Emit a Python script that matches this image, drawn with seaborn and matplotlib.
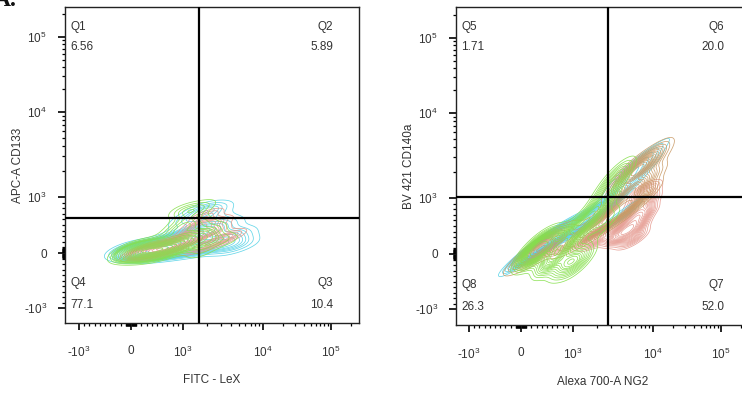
import numpy as np
import pandas as pd
import matplotlib
matplotlib.use("Agg")
import matplotlib.pyplot as plt
import seaborn as sns

# ---------------- data (fluorescence values, with event weights) ----------------
# Panel A-left: FITC-LeX (x) vs APC-A CD133 (y)
p1_cyan_x = [0, 269, 558, 846, 1223, 1884, 2900, 4870, 654, 942, 1413, 2175, 3350, 1059, 1540,
             2054, 2512, 3870, 5460, 3650, 5960, 2738]
p1_cyan_y = [54, 36, 36, 54, 71, 107, 161, 232, 179, 268, 375, 411, 339, 554, 696,
             821, 625, 554, 375, 54, 161, 804]
p1_cyan_w = [3, 4, 4, 3, 2, 1.5, 1.2, 0.8, 2, 2, 1.5, 1.2, 1, 1, 1,
             0.8, 0.8, 0.8, 0.7, 0.8, 0.6, 0.7]
p1_green_x = [38, 231, 423, 615, 808, 1000, 1296, 1728, 2512, 3870, 846, 1059, 1000, 1296, 1630,
              1884, 2512, 1630]
p1_green_y = [36, 36, 36, 54, 107, 179, 268, 232, 232, 232, 375, 554, 768, 732, 518,
              857, 446, 18]
p1_green_w = [5, 5, 5, 4, 3, 2.5, 2, 1.5, 1, 0.6, 1.5, 1.2, 1, 1, 1,
              0.7, 0.8, 1]
p1_red_x = [269, 519, 750, 981, 1334, 1630, 1995, 2305, 3350, 1413, 2175, 2738, 3870]
p1_red_y = [36, 54, 107, 196, 321, 500, 679, 375, 268, 89, 143, 554, 321]
p1_red_w = [3, 3, 3, 2.5, 2, 1.5, 1, 1.2, 0.8, 1, 0.8, 0.8, 0.6]

# Panel A-right: Alexa 700-A NG2 (x) vs BV 421 CD140a (y)
p2_cyan_x = [275, 373, 667, 961, 1447, 2216, 3395, 5200, 5994, 7965, 3913]
p2_cyan_y = [88, 175, 316, 456, 596, 772, 1056, 1670, 2190, 3120, 684]
p2_cyan_w = [3, 3, 2.5, 2, 2, 1.5, 1.5, 1.5, 1.5, 1, 1]
p2_green_x = [275, 627, 902, 1186, 471, 863, 1447, 2095, 2945, 3913, 2555]
p2_green_y = [70, -70, -140, -140, 140, 281, 561, 860, 1384, 2078, 596]
p2_green_w = [4, 3, 2, 1.5, 2, 2, 2, 1.5, 1.5, 1, 1]
p2_brown_x = [275, 569, 1255, 2555, 4511, 5650, 6170, 7330, 5500]
p2_brown_y = [70, 158, 333, 561, 860, 1276, 1970, 2725, 860]
p2_brown_w = [2, 1.5, 1.5, 1.5, 2, 2.5, 2.5, 1.5, 1]
p2_red_x = [765, 1923, 3913, 5200, 6540, 7330, 7965, 5500]
p2_red_y = [158, 281, 351, 456, 684, 912, 1209, 281]
p2_red_w = [1, 1.5, 1.5, 2, 2, 1.5, 1, 1]

# quadrant gates
gate1 = (1580, 625)
gate2 = (2700, 1030)

quad_names1 = ["Q1", "Q2", "Q3", "Q4"]
quad_vals1 = ["6.56", "5.89", "10.4", "77.1"]
quad_names2 = ["Q5", "Q6", "Q7", "Q8"]
quad_vals2 = ["1.71", "20.0", "52.0", "26.3"]

xlabels = ["FITC - LeX", "Alexa 700-A NG2"]
ylabels = ["APC-A CD133", "BV 421 CD140a"]

major_vals = [-1e3, 0, 1e3, 1e4, 1e5]
major_labels = [r"-$10^{3}$", "0", r"$10^{3}$", r"$10^{4}$", r"$10^{5}$"]

# ---------------- biexponential-like display transform ----------------
XA = (-52, 52, 132, 200)
YA = (-55, 56, 141, 216)


def biex(v, anch):
    neg, p3, p4, p5 = anch
    v = np.atleast_1d(np.asarray(v, float))
    out = np.empty_like(v)
    lin = np.abs(v) <= 1e3
    out[lin] = np.where(v[lin] >= 0, v[lin] / 1e3 * p3, v[lin] / 1e3 * (-neg))
    hi = v > 1e3
    out[hi] = np.interp(np.log10(v[hi]), [3, 4, 5, 6], [p3, p4, p5, p5 + (p5 - p4)])
    lo = v < -1e3
    out[lo] = neg - (np.log10(-v[lo]) - 3) * (p4 - p3)
    return out


minor_vals = []
for d in [10, 100]:
    for m in range(1, 10):
        minor_vals += [m * d, -m * d]
for d in [1e3, 1e4, 1e5]:
    for m in range(2, 10):
        minor_vals.append(m * d)
minor_vals = np.array(minor_vals)

# ---------------- style ----------------
sns.set_theme(style="white")
plt.rcParams["font.family"] = ["Liberation Sans", "DejaVu Sans"]
plt.rcParams["mathtext.fontset"] = "custom"
plt.rcParams["mathtext.rm"] = "Liberation Sans"
plt.rcParams["mathtext.it"] = "Liberation Sans"
TXT = "#333333"

W, H = 742, 394
fig = plt.figure(figsize=(W / 100, H / 100), dpi=100)

panels = [
    dict(box=(65, 7, 359, 323), xlim=(-66, 228), ylim=(-70, 246), thresh=0.06,
         groups=[(p1_cyan_x, p1_cyan_y, p1_cyan_w, "#55d2e6", 0.7),
                 (p1_red_x, p1_red_y, p1_red_w, "#e39486", 0.7),
                 (p1_green_x, p1_green_y, p1_green_w, "#86e04c", 0.7)],
         gate=gate1, names=quad_names1, vals=quad_vals1),
    dict(box=(456, 7, 750, 325), xlim=(-65, 229), ylim=(-71, 247), thresh=0.07,
         groups=[(p2_red_x, p2_red_y, p2_red_w, "#e69a90", 0.55),
                 (p2_cyan_x, p2_cyan_y, p2_cyan_w, "#55d2e6", 0.62),
                 (p2_brown_x, p2_brown_y, p2_brown_w, "#c99a66", 0.62),
                 (p2_green_x, p2_green_y, p2_green_w, "#86e04c", 0.62)],
         gate=gate2, names=quad_names2, vals=quad_vals2),
]

for i, p in enumerate(panels):
    l, t, r, b = p["box"]
    ax = fig.add_axes([l / W, 1 - b / H, (r - l) / W, (b - t) / H])
    for gx, gy, gw, col, bw in p["groups"]:
        df = pd.DataFrame({"x": biex(gx, XA), "y": biex(gy, YA), "w": gw})
        sns.kdeplot(data=df, x="x", y="y", weights="w", ax=ax, levels=18,
                    thresh=p["thresh"], bw_adjust=bw, color=col,
                    linewidths=0.55, alpha=0.9)
    gx0 = biex(p["gate"][0], XA)[0]
    gy0 = biex(p["gate"][1], YA)[0]
    ax.axvline(gx0, color="black", lw=1.6, zorder=5)
    ax.axhline(gy0, color="black", lw=1.6, zorder=5)
    ax.set_xlim(*p["xlim"])
    ax.set_ylim(*p["ylim"])

    ax.set_xticks(biex(major_vals, XA))
    ax.set_xticklabels(major_labels)
    ax.set_yticks(biex(major_vals, YA))
    ax.set_yticklabels(major_labels)
    mx = biex(minor_vals, XA)
    my = biex(minor_vals, YA)
    ax.set_xticks(mx[(mx > p["xlim"][0]) & (mx < p["xlim"][1])], minor=True)
    ax.set_yticks(my[(my > p["ylim"][0]) & (my < p["ylim"][1])], minor=True)
    ax.tick_params(which="major", direction="out", length=5, width=1.2,
                   color="black", labelsize=8.5, labelcolor=TXT, pad=8,
                   bottom=True, left=True)
    ax.tick_params(axis="x", which="major", pad=11)
    ax.tick_params(which="minor", direction="out", length=2.5, width=0.9,
                   color="black", bottom=True, left=True)
    for s in ax.spines.values():
        s.set_color("#222222")
        s.set_linewidth(1.0)

    ax.set_xlabel(xlabels[i], fontsize=8.5, color=TXT, labelpad=10)
    ax.set_ylabel(ylabels[i], fontsize=8.5, color=TXT, labelpad=0)

    n, v = p["names"], p["vals"]
    kw = dict(transform=ax.transAxes, fontsize=8.5, color=TXT, va="center")
    ax.text(0.018, 0.937, n[0], ha="left", **kw)
    ax.text(0.018, 0.873, v[0], ha="left", **kw)
    ax.text(0.912, 0.937, n[1], ha="right", **kw)
    ax.text(0.912, 0.873, v[1], ha="right", **kw)
    ax.text(0.912, 0.127, n[2], ha="right", **kw)
    ax.text(0.912, 0.057, v[2], ha="right", **kw)
    ax.text(0.018, 0.127, n[3], ha="left", **kw)
    ax.text(0.018, 0.057, v[3], ha="left", **kw)

fig.text(-6 / W, 1 - 6 / H, "A.", fontsize=17, fontweight="bold",
         family=["Liberation Serif", "DejaVu Serif"], color="#111111",
         ha="left", va="baseline")

fig.savefig("out.png", dpi=100)
